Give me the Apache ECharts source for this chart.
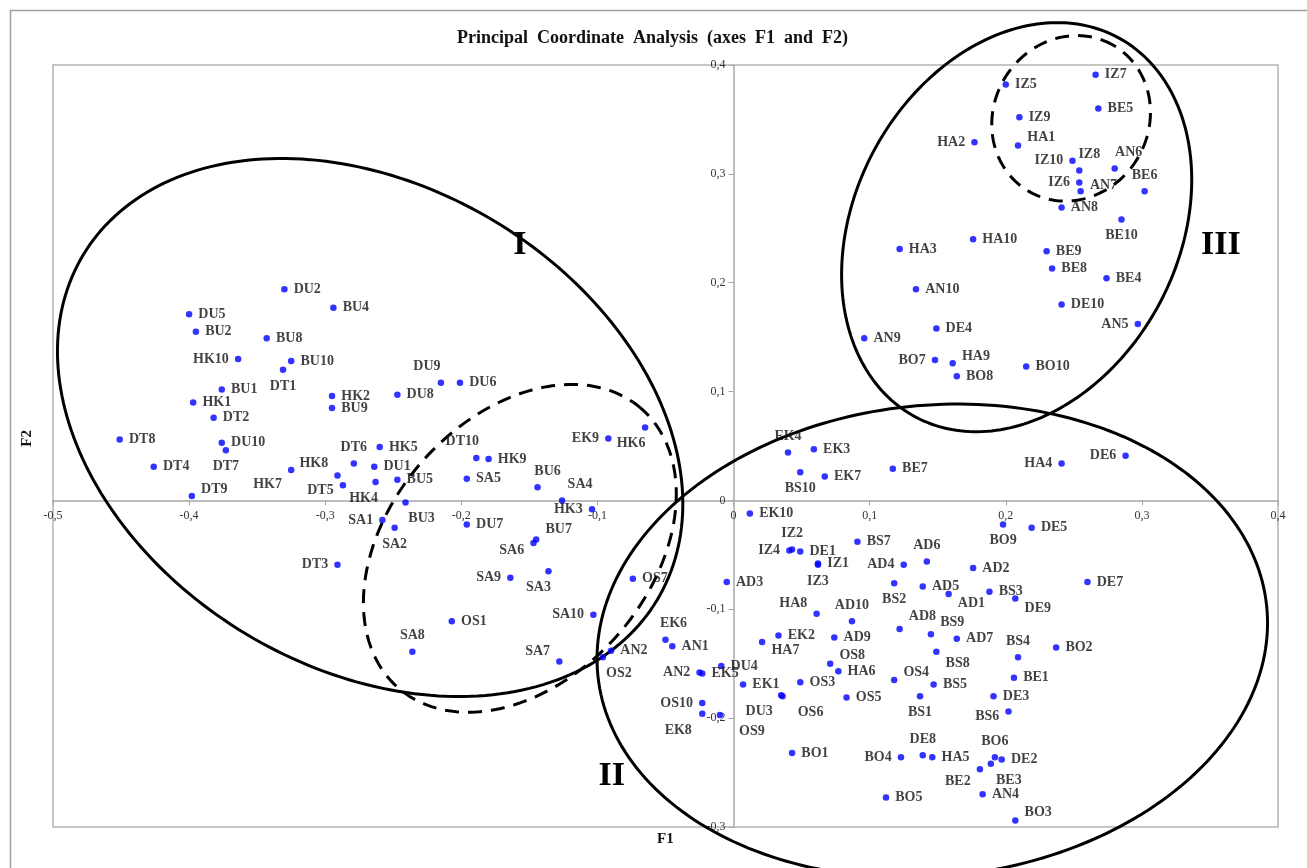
<!DOCTYPE html>
<html>
<head>
<meta charset="utf-8">
<script src="https://cdn.jsdelivr.net/npm/echarts@6.0.0/dist/echarts.min.js"></script>
<style>
  html, body { margin: 0; background: #fff; }
  #pcoa { width: 1307px; height: 868px; }
</style>
</head>
<body>
<div id="pcoa"></div>
<script>
// sample names and their coordinates on F1 / F2
const names = [
  // group I
  "DU2", "BU4", "DU5", "BU2", "BU8", "HK10", "BU10", "DT1", "BU1", "HK1", "DT2", "HK2", "BU9",
  "DT8", "DU10", "DT7", "DT4", "DT9", "HK7", "HK8", "DT5", "DT6", "HK5", "DU1", "HK4", "BU5",
  "BU3", "DU8", "DU9", "DU6", "DT10", "HK9", "SA5", "BU6", "SA4", "HK3", "EK9", "HK6", "SA1",
  "SA2", "DU7", "BU7", "SA6", "DT3", "SA9", "SA3", "OS7", "SA10", "OS1", "SA8", "SA7", "AN2", "OS2",
  // group II
  "EK4", "EK3", "BS10", "EK7", "BE7", "HA4", "DE6", "EK10", "IZ2", "IZ4", "DE1", "IZ1", "IZ3",
  "AD3", "HA8", "AD10", "EK2", "HA7", "AD9", "OS8", "HA6", "OS4", "BS7", "AD6", "AD4", "BS2",
  "AD5", "AD1", "AD2", "BS3", "DE9", "BO9", "DE5", "DE7", "AD8", "BS9", "AD7", "BS4", "BS8",
  "BO2", "EK6", "AN1", "DU4", "AN2", "EK5", "EK1", "DU3", "OS6", "OS3", "OS5", "BS5", "BS1",
  "BE1", "DE3", "BS6", "OS10", "EK8", "OS9", "BO1", "BO4", "DE8", "HA5", "BO6", "DE2", "BE3",
  "BE2", "AN4", "BO5", "BO3",
  // group III
  "IZ5", "IZ7", "BE5", "IZ9", "HA2", "HA1", "IZ10", "IZ8", "IZ6", "AN7", "AN6", "BE6", "AN8",
  "BE10", "HA10", "HA3", "BE9", "BE8", "BE4", "AN10", "DE10", "AN5", "AN9", "DE4", "BO7", "HA9",
  "BO8", "BO10"
];
const f1 = [
  -0.330, -0.294, -0.400, -0.395, -0.343, -0.364, -0.325, -0.331, -0.376, -0.397, -0.382, -0.295, -0.295,
  -0.451, -0.376, -0.373, -0.426, -0.398, -0.325, -0.291, -0.287, -0.279, -0.260, -0.264, -0.263, -0.247,
  -0.241, -0.247, -0.215, -0.201, -0.189, -0.180, -0.196, -0.144, -0.126, -0.104, -0.092, -0.065, -0.258,
  -0.249, -0.196, -0.145, -0.147, -0.291, -0.164, -0.136, -0.074, -0.103, -0.207, -0.236, -0.128, -0.090, -0.096,
  0.040, 0.059, 0.049, 0.067, 0.117, 0.241, 0.288, 0.012, 0.043, 0.041, 0.049, 0.062, 0.062,
  -0.005, 0.061, 0.087, 0.033, 0.021, 0.074, 0.071, 0.077, 0.118, 0.091, 0.142, 0.125, 0.118,
  0.139, 0.158, 0.176, 0.188, 0.207, 0.198, 0.219, 0.260, 0.122, 0.145, 0.164, 0.209, 0.149,
  0.237, -0.050, -0.045, -0.009, -0.025, -0.023, 0.007, 0.035, 0.036, 0.049, 0.083, 0.147, 0.137,
  0.206, 0.191, 0.202, -0.023, -0.023, -0.010, 0.043, 0.123, 0.139, 0.146, 0.192, 0.197, 0.189,
  0.181, 0.183, 0.112, 0.207,
  0.200, 0.266, 0.268, 0.210, 0.177, 0.209, 0.249, 0.254, 0.254, 0.255, 0.280, 0.302, 0.241,
  0.285, 0.176, 0.122, 0.230, 0.234, 0.274, 0.134, 0.241, 0.297, 0.096, 0.149, 0.148, 0.161,
  0.164, 0.215
];
const f2 = [
  0.194, 0.177, 0.171, 0.155, 0.149, 0.130, 0.128, 0.120, 0.102, 0.090, 0.076, 0.096, 0.085,
  0.056, 0.053, 0.046, 0.031, 0.004, 0.028, 0.023, 0.014, 0.034, 0.049, 0.031, 0.017, 0.019,
  -0.002, 0.097, 0.108, 0.108, 0.039, 0.038, 0.020, 0.012, 0.000, -0.008, 0.057, 0.067, -0.018,
  -0.025, -0.022, -0.036, -0.039, -0.059, -0.071, -0.065, -0.072, -0.105, -0.111, -0.139, -0.148, -0.138, -0.144,
  0.044, 0.047, 0.026, 0.022, 0.029, 0.034, 0.041, -0.012, -0.045, -0.046, -0.047, -0.058, -0.059,
  -0.075, -0.104, -0.111, -0.124, -0.130, -0.126, -0.150, -0.157, -0.165, -0.038, -0.056, -0.059, -0.076,
  -0.079, -0.086, -0.062, -0.084, -0.090, -0.022, -0.025, -0.075, -0.118, -0.123, -0.127, -0.144, -0.139,
  -0.135, -0.128, -0.134, -0.152, -0.158, -0.159, -0.169, -0.179, -0.180, -0.167, -0.181, -0.169, -0.180,
  -0.163, -0.180, -0.194, -0.186, -0.196, -0.197, -0.232, -0.236, -0.234, -0.236, -0.236, -0.238, -0.242,
  -0.247, -0.270, -0.273, -0.294,
  0.382, 0.391, 0.360, 0.352, 0.329, 0.326, 0.312, 0.303, 0.292, 0.284, 0.305, 0.284, 0.269,
  0.258, 0.240, 0.231, 0.229, 0.213, 0.204, 0.194, 0.180, 0.162, 0.149, 0.158, 0.129, 0.126,
  0.114, 0.123
];

// label side when not right of the dot: r/l/t/b + nudge in px
// (vertical nudge for r/l, horizontal nudge for t/b)
const labelAt = {
  HK10: "l", DT1: "b", DT7: "b", DT9: "r-7", HK7: "l14", HK8: "l-12", DT5: "l5", DT6: "t", HK4: "b-12",
  BU3: "b16", DU9: "t-14", DT10: "t-14", BU6: "t10", SA4: "t18", HK3: "l", EK9: "l", HK6: "b-14", SA1: "l",
  SA2: "b", BU7: "r-10", SA6: "l8", DT3: "l", SA9: "l", SA3: "b-10", SA10: "l", SA8: "t", SA7: "l-10",
  OS2: "b16", AN2: ["r", "l"],
  EK4: "t", BS10: "b", HA4: "l", DE6: "l", IZ2: "t", IZ4: "l", IZ3: "b", HA8: "l-10", AD10: "t",
  HA7: "r8", OS8: "r-8", OS4: "r-8", AD6: "t", AD4: "l", BS2: "b", AD1: "r9", DE9: "r10", BO9: "b",
  AD8: "r-12", BS9: "r-12", BS4: "t", BS8: "r12", EK6: "t8", DU3: "b-22", OS6: "b28", BS1: "b", BS6: "l5",
  OS10: "l", EK8: "b-24", OS9: "b32", BO4: "l", DE8: "t", BO6: "t", BE3: "b18", BE2: "l12", BO3: "r-8",
  HA2: "l", HA1: "r-8", IZ10: "l", IZ8: "t10", IZ6: "l", AN7: "r-6", AN6: "t14", BE6: "t", BE10: "b",
  AN5: "l", BO7: "l", HA9: "r-7"
};

// group outlines: centre (F1, F2), semi-axes in F1 units, tilt in degrees
const rings = [
  { cx: -0.267, cy: 0.067, a: 0.246, b: 0.177, angle: -31, dashed: false },
  { cx: -0.157, cy: -0.044, a: 0.136, b: 0.096, angle: 49, dashed: true },
  { cx: 0.146, cy: -0.129, a: 0.247, b: 0.173, angle: 6, dashed: false },
  { cx: 0.208, cy: 0.251, a: 0.158, b: 0.119, angle: 62, dashed: false },
  { cx: 0.248, cy: 0.351, a: 0.062, b: 0.057, angle: 60, dashed: true }
];
const romans = [
  { text: "I", x: -0.157, y: 0.234 },
  { text: "II", x: -0.0895, y: -0.253 },
  { text: "III", x: 0.358, y: 0.234 }
];

const xMin = -0.5, xMax = 0.4, yMin = -0.3, yMax = 0.4;
const gridBox = { left: 53, right: 29, top: 65, bottom: 41 };
const gridW = 1307 - gridBox.left - gridBox.right;
const gridH = 868 - gridBox.top - gridBox.bottom;

const serif = '"Liberation Serif", "DejaVu Serif", serif';
const fmt = (v) => (Math.abs(v) < 1e-9 ? "0" : v.toFixed(1).replace(".", ","));

const seen = {};
const nudges = [];
const points = names.map((n, i) => {
  let code = labelAt[n] || "r";
  if (Array.isArray(code)) {
    seen[n] = seen[n] || 0;
    code = code[seen[n]++] || "r";
  }
  const side = { r: "right", l: "left", t: "top", b: "bottom" }[code[0]];
  const nudge = Number(code.slice(1)) || 0;
  nudges.push(side === "right" || side === "left" ? [0, nudge] : [nudge, 0]);
  return { name: n, value: [f1[i], f2[i]], label: { position: side } };
});

function drawRings(params, api) {
  const k = api.size([1, 0])[0];
  const children = [];
  rings.forEach((r) => {
    const c = api.coord([r.cx, r.cy]);
    const th = (r.angle * Math.PI) / 180;
    const pts = [];
    for (let i = 0; i < 240; i++) {
      const t = (i / 240) * Math.PI * 2;
      const u = r.a * k * Math.cos(t);
      const v = r.b * k * Math.sin(t);
      pts.push([c[0] + u * Math.cos(th) - v * Math.sin(th), c[1] - (u * Math.sin(th) + v * Math.cos(th))]);
    }
    children.push({
      type: "polygon",
      shape: { points: pts },
      style: { fill: "none", stroke: "#000", lineWidth: 3, lineDash: r.dashed ? [14, 9] : null }
    });
  });
  romans.forEach((m) => {
    const p = api.coord([m.x, m.y]);
    children.push({
      type: "text",
      x: p[0],
      y: p[1],
      style: {
        text: m.text,
        font: "bold 34px " + serif,
        fill: "#000",
        textAlign: "center",
        textVerticalAlign: "middle"
      }
    });
  });
  return { type: "group", children: children };
}

const axisGrey = "#a8a8a8";
const chart = echarts.init(document.getElementById("pcoa"));
chart.setOption({
  animation: false,
  backgroundColor: "#fff",
  title: {
    text: "Principal  Coordinate  Analysis  (axes  F1  and  F2)",
    left: 452,
    top: 24,
    textStyle: { fontFamily: serif, fontWeight: "bold", fontSize: 18, color: "#111" }
  },
  grid: Object.assign({ show: true, borderColor: "#b4b4b4", borderWidth: 1.5 }, gridBox),
  xAxis: {
    type: "value", min: xMin, max: xMax, interval: 0.1,
    // axis drawn through F2 = 0
    offset: -gridH * (0 - yMin) / (yMax - yMin),
    axisLine: { onZero: false, lineStyle: { color: axisGrey, width: 1.5 } },
    axisTick: { show: true, length: 5, lineStyle: { color: axisGrey } },
    axisLabel: { formatter: fmt, fontFamily: serif, fontSize: 12, color: "#333", margin: 9 },
    splitLine: { show: false }
  },
  yAxis: {
    type: "value", min: yMin, max: yMax, interval: 0.1,
    // axis drawn through F1 = 0
    offset: -gridW * (0 - xMin) / (xMax - xMin),
    axisLine: { onZero: false, lineStyle: { color: axisGrey, width: 1.5 } },
    axisTick: { show: true, length: 5, lineStyle: { color: axisGrey } },
    axisLabel: { formatter: fmt, fontFamily: serif, fontSize: 12, color: "#333", margin: 8 },
    splitLine: { show: false }
  },
  graphic: [
    {
      type: "rect", left: 8, top: 8, silent: true,
      shape: { width: 1400, height: 1000 },
      style: { fill: "none", stroke: "#a0a0a0", lineWidth: 1.5 }
    },
    {
      type: "text", left: 657, top: 832,
      style: { text: "F1", font: "bold 15px " + serif, fill: "#111" }
    },
    {
      type: "text", left: 20, top: 430, rotation: Math.PI / 2,
      style: { text: "F2", font: "bold 15px " + serif, fill: "#111" }
    }
  ],
  series: [
    {
      type: "custom",
      coordinateSystem: "cartesian2d",
      clip: false,
      silent: true,
      z: 1,
      data: [[0, 0]],
      renderItem: drawRings
    },
    {
      type: "scatter",
      z: 2,
      symbolSize: 6.5,
      itemStyle: { color: "#0000ff" },
      label: {
        show: true,
        formatter: "{b}",
        distance: 6,
        fontFamily: serif,
        fontWeight: "bold",
        fontSize: 14,
        color: "#111"
      },
      labelLayout: (p) => ({ dx: nudges[p.dataIndex][0], dy: nudges[p.dataIndex][1], hideOverlap: false }),
      data: points
    }
  ]
});
</script>
</body>
</html>
